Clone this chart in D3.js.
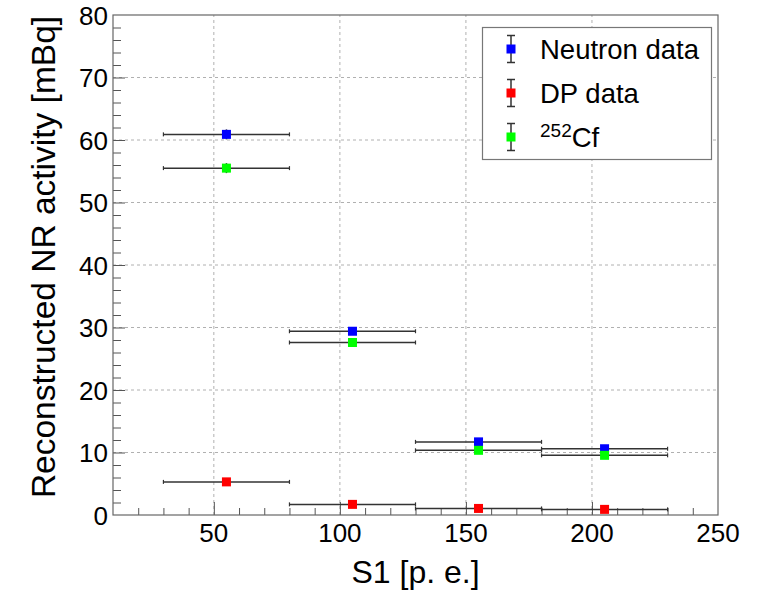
<!DOCTYPE html>
<html>
<head>
<meta charset="utf-8">
<script src="https://cdn.jsdelivr.net/npm/d3@7"></script>
<style>
  html, body { margin: 0; padding: 0; background: #ffffff; }
  svg text { font-family: "Liberation Sans", Arial, Helvetica, sans-serif; }
</style>
</head>
<body>
<div id="chart"></div>
<script>
// data

const binLow = [30, 80, 130, 180];
const binHigh = [80, 130, 180, 230];
const binCenter = [55, 105, 155, 205];

const neutronValues = [60.9, 29.4, 11.7, 10.6];
const neutronErrors = [0.8, 0.6, 0.4, 0.4];

const dpValues = [5.3, 1.7, 1.05, 0.9];
const dpErrors = [0.3, 0.2, 0.15, 0.15];

const cfValues = [55.5, 27.6, 10.35, 9.55];
const cfErrors = [0.8, 0.5, 0.3, 0.3];

const seriesNames = ["Neutron data", "DP data", "252Cf"];
const seriesColors = ["#0000ff", "#ff0000", "#00ff00"];

const xMajorTicks = [50, 100, 150, 200, 250];
const yMajorTicks = [0, 10, 20, 30, 40, 50, 60, 70, 80];

// config

const width = 765;
const height = 593;
const margin = { top: 15, right: 47, bottom: 78, left: 113 };

const xScale = d3.scaleLinear()
  .domain([10, 250])
  .range([margin.left, width - margin.right]);

const yScale = d3.scaleLinear()
  .domain([0, 80])
  .range([height - margin.bottom, margin.top]);

const svg = d3.select("#chart")
  .append("svg")
  .attr("width", width)
  .attr("height", height);

// grid

svg.append("g")
  .selectAll("line.vgrid")
  .data(xMajorTicks.filter(d => d < 250))
  .join("line")
  .attr("x1", d => xScale(d)).attr("x2", d => xScale(d))
  .attr("y1", yScale(0)).attr("y2", yScale(80))
  .attr("stroke", "#b0b0b0")
  .attr("stroke-width", 1)
  .attr("stroke-dasharray", "3,3");

svg.append("g")
  .selectAll("line.hgrid")
  .data(yMajorTicks.filter(d => d > 0 && d < 80))
  .join("line")
  .attr("x1", xScale(10)).attr("x2", xScale(250))
  .attr("y1", d => yScale(d)).attr("y2", d => yScale(d))
  .attr("stroke", "#b0b0b0")
  .attr("stroke-width", 1)
  .attr("stroke-dasharray", "3,3");

// axes

const xMinor = d3.range(20, 250, 10).filter(d => d % 50 !== 0);
const yMinor = d3.range(2, 80, 2).filter(d => d % 10 !== 0);

const bottomY = height - margin.bottom;

svg.append("g")
  .attr("transform", "translate(0," + bottomY + ")")
  .call(d3.axisTop(xScale).tickValues(xMinor).tickSize(7).tickFormat(""))
  .call(g => g.select(".domain").remove())
  .call(g => g.selectAll(".tick line").attr("stroke", "#555"));

svg.append("g")
  .attr("transform", "translate(0," + bottomY + ")")
  .call(d3.axisTop(xScale).tickValues(xMajorTicks.filter(d => d < 250)).tickSize(13).tickFormat(""))
  .call(g => g.select(".domain").remove())
  .call(g => g.selectAll(".tick line").attr("stroke", "#555"));

svg.append("g")
  .selectAll("text.xlab")
  .data(xMajorTicks)
  .join("text")
  .attr("x", d => xScale(d))
  .attr("y", bottomY + 27)
  .attr("text-anchor", "middle")
  .style("font-size", "26px")
  .style("fill", "#000")
  .text(d => d);

svg.append("g")
  .attr("transform", "translate(" + margin.left + ",0)")
  .call(d3.axisRight(yScale).tickValues(yMinor).tickSize(8).tickFormat(""))
  .call(g => g.select(".domain").remove())
  .call(g => g.selectAll(".tick line").attr("stroke", "#555"));

svg.append("g")
  .attr("transform", "translate(" + margin.left + ",0)")
  .call(d3.axisRight(yScale).tickValues(yMajorTicks.filter(d => d > 0 && d < 80)).tickSize(12).tickFormat(""))
  .call(g => g.select(".domain").remove())
  .call(g => g.selectAll(".tick line").attr("stroke", "#555"));

svg.append("g")
  .selectAll("text.ylab")
  .data(yMajorTicks)
  .join("text")
  .attr("x", margin.left - 5)
  .attr("y", d => yScale(d) + 9.5)
  .attr("text-anchor", "end")
  .style("font-size", "26px")
  .style("fill", "#000")
  .text(d => d);

// frame

svg.append("rect")
  .attr("x", xScale(10))
  .attr("y", yScale(80))
  .attr("width", xScale(250) - xScale(10))
  .attr("height", yScale(0) - yScale(80))
  .attr("fill", "none")
  .attr("stroke", "#666")
  .attr("stroke-width", 1.2);

// titles

svg.append("text")
  .attr("x", (xScale(10) + xScale(250)) / 2)
  .attr("y", 583)
  .attr("text-anchor", "middle")
  .style("font-size", "32px")
  .style("fill", "#000")
  .text("S1 [p. e.]");

svg.append("text")
  .attr("transform", "translate(55," + 257 + ") rotate(-90)")
  .attr("text-anchor", "middle")
  .style("font-size", "33.5px")
  .style("fill", "#000")
  .text("Reconstructed NR activity [mBq]");

// data points

const series = [
  { values: neutronValues, errors: neutronErrors, color: seriesColors[0] },
  { values: dpValues, errors: dpErrors, color: seriesColors[1] },
  { values: cfValues, errors: cfErrors, color: seriesColors[2] }
];

const barColor = "#333";

series.forEach(s => {
  const rows = binCenter.map((c, i) => ({
    x: c, lo: binLow[i], hi: binHigh[i], y: s.values[i], e: s.errors[i]
  }));
  const g = svg.append("g");

  // x error bars
  g.selectAll("line.xerr")
    .data(rows)
    .join("line")
    .attr("x1", d => xScale(d.lo)).attr("x2", d => xScale(d.hi))
    .attr("y1", d => yScale(d.y)).attr("y2", d => yScale(d.y))
    .attr("stroke", barColor)
    .attr("stroke-width", 1.5);

  g.selectAll("line.capl")
    .data(rows)
    .join("line")
    .attr("x1", d => xScale(d.lo)).attr("x2", d => xScale(d.lo))
    .attr("y1", d => yScale(d.y) - 2).attr("y2", d => yScale(d.y) + 2)
    .attr("stroke", barColor)
    .attr("stroke-width", 1.2);

  g.selectAll("line.capr")
    .data(rows)
    .join("line")
    .attr("x1", d => xScale(d.hi)).attr("x2", d => xScale(d.hi))
    .attr("y1", d => yScale(d.y) - 2).attr("y2", d => yScale(d.y) + 2)
    .attr("stroke", barColor)
    .attr("stroke-width", 1.2);

  // y error bars
  g.selectAll("line.yerr")
    .data(rows)
    .join("line")
    .attr("x1", d => xScale(d.x)).attr("x2", d => xScale(d.x))
    .attr("y1", d => yScale(d.y - d.e)).attr("y2", d => yScale(d.y + d.e))
    .attr("stroke", barColor)
    .attr("stroke-width", 1.5);

  // markers
  g.selectAll("rect.marker")
    .data(rows)
    .join("rect")
    .attr("x", d => xScale(d.x) - 4.5)
    .attr("y", d => yScale(d.y) - 4.5)
    .attr("width", 9)
    .attr("height", 9)
    .attr("fill", s.color);
});

// legend

const legend = svg.append("g");

legend.append("rect")
  .attr("x", 482.5)
  .attr("y", 27.5)
  .attr("width", 229)
  .attr("height", 132)
  .attr("fill", "#fff")
  .attr("stroke", "#777")
  .attr("stroke-width", 1.2);

const legendY = [49, 93, 137];
const legendX = 511;

seriesNames.forEach((name, i) => {
  const cy = legendY[i];
  legend.append("line")
    .attr("x1", legendX).attr("x2", legendX)
    .attr("y1", cy - 13.5).attr("y2", cy + 13.5)
    .attr("stroke", barColor).attr("stroke-width", 1.5);
  [cy - 13.5, cy + 13.5].forEach(yy => {
    legend.append("line")
      .attr("x1", legendX - 4).attr("x2", legendX + 4)
      .attr("y1", yy).attr("y2", yy)
      .attr("stroke", barColor).attr("stroke-width", 1.5);
  });
  legend.append("rect")
    .attr("x", legendX - 4.5).attr("y", cy - 4.5)
    .attr("width", 9).attr("height", 9)
    .attr("fill", seriesColors[i]);

  const t = legend.append("text")
    .attr("x", 540)
    .attr("y", cy + 9.5)
    .style("font-size", "27.5px")
    .style("fill", "#000");
  if (name === "252Cf") {
    t.append("tspan").attr("dy", -10).style("font-size", "19px").text("252");
    t.append("tspan").attr("dy", 10).text("Cf");
  } else {
    t.text(name);
  }
});
</script>
</body>
</html>
